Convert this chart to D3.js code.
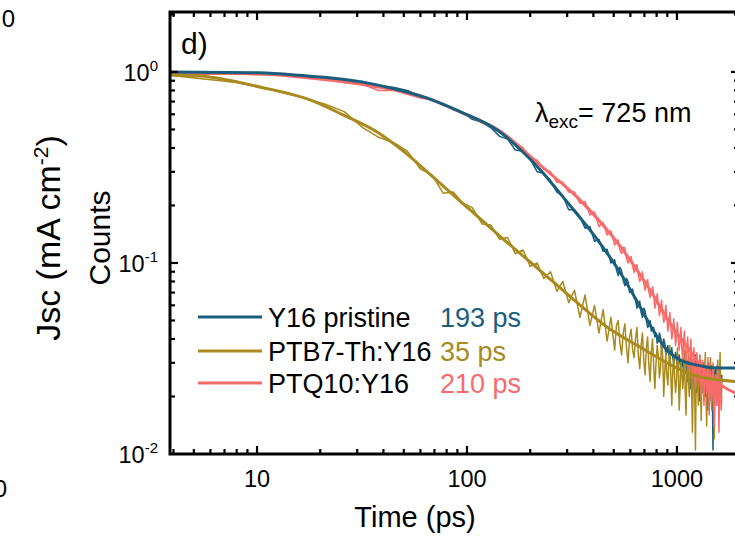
<!DOCTYPE html>
<html><head><meta charset="utf-8">
<script src="https://cdn.jsdelivr.net/npm/d3@7"></script>
<style>body{margin:0;background:#fff;} svg{display:block;font-family:"Liberation Sans",Arial,sans-serif;}</style>
</head><body><svg id="c" width="735" height="537"></svg>
<script>
// ---- data (time in ps, normalized counts) ----
const time = [4,8,12,16,21,26,32,38,45,52,60,68,77,86,96,106,118,130,143,156,170,185,200,216,232,250,268,286,305,325,345,365,385,405,425,445,465,485,
 505,515,525,535,545,555,565,575,585,595,
 605,615,625,635,645,655,665,675,685,695,
 705,715,725,735,745,755,765,775,785,795,
 805,815,825,835,845,855,865,875,885,895,
 905,915,925,935,945,955,965,975,985,995,
 1005,1015,1025,1035,1045,1055,1065,1075,1085,1095,
 1105,1115,1125,1135,1145,1155,1165,1175,1185,1195,
 1205,1215,1225,1235,1245,1255,1265,1275,1285,1295,
 1305,1315,1325,1335,1345,1355,1365,1375,1385,1395,
 1405,1415,1425,1435,1445,1455,1465,1475,1485,1495,
 1505,1515,1525,1535,1545,1555,1565,1575,1585,1595,
 1605,1615,1625,1635];
const y16Data = [1.0,0.99,0.985,0.96,0.935,0.90,0.89,0.85,0.83,0.80,0.745,0.72,0.67,0.645,0.61,0.565,0.545,0.51,0.46,0.445,0.39,0.385,0.35,0.30,0.295,0.27,0.235,0.225,0.19,0.19,0.175,0.152,0.155,0.13,0.133,0.115,0.118,0.10,
 0.104,0.092,0.086,0.095,0.091,0.081,0.076,0.083,0.080,0.070,
 0.072,0.073,0.066,0.064,0.058,0.060,0.063,0.055,0.052,0.058,
 0.056,0.050,0.046,0.047,0.050,0.044,0.046,0.046,0.041,0.043,
 0.038,0.039,0.043,0.041,0.035,0.036,0.040,0.038,0.033,0.034,
 0.037,0.033,0.031,0.035,0.036,0.032,0.030,0.031,0.034,0.033,
 0.028,0.030,0.033,0.030,0.027,0.029,0.032,0.028,0.026,0.033,
 0.031,0.027,0.024,0.032,0.029,0.026,0.022,0.027,0.030,0.023,
 0.025,0.029,0.033,0.026,0.021,0.030,0.028,0.024,0.019,0.031,
 0.027,0.021,0.023,0.026,0.030,0.024,0.020,0.029,0.026,0.022,
 0.017,0.030,0.027,0.019,0.022,0.025,0.029,0.020,0.0105,0.016,
 0.024,0.027,0.028,0.022,0.018,0.029,0.026,0.020,0.021,0.025,
 0.027,0.023,0.019,0.026];
const ptb7Data = [0.955,0.88,0.80,0.74,0.68,0.62,0.51,0.455,0.425,0.385,0.31,0.29,0.232,0.235,0.205,0.195,0.16,0.158,0.133,0.136,0.112,0.117,0.096,0.10,0.083,0.090,0.071,0.080,0.062,0.072,0.052,0.068,0.047,0.060,0.043,0.057,0.039,0.052,
 0.035,0.047,0.050,0.038,0.033,0.043,0.048,0.036,0.030,0.041,
 0.045,0.035,0.032,0.040,0.046,0.033,0.028,0.037,0.043,0.031,
 0.026,0.036,0.041,0.029,0.024,0.034,0.040,0.029,0.022,0.030,
 0.037,0.033,0.025,0.028,0.040,0.033,0.020,0.027,0.034,0.026,
 0.023,0.030,0.037,0.026,0.018,0.027,0.033,0.025,0.021,0.024,
 0.036,0.029,0.017,0.022,0.030,0.027,0.022,0.025,0.035,0.021,
 0.016,0.026,0.031,0.024,0.020,0.028,0.034,0.021,0.013,0.024,
 0.029,0.022,0.0105,0.025,0.031,0.023,0.018,0.026,0.033,0.022,
 0.015,0.025,0.028,0.023,0.019,0.026,0.034,0.021,0.014,0.024,
 0.027,0.022,0.020,0.027,0.032,0.020,0.017,0.024,0.029,0.026,
 0.012,0.020,0.026,0.024,0.021,0.027,0.031,0.022,0.016,0.025,
 0.034,0.023,0.019,0.025];
const ptq10Data = [0.97,0.975,0.965,0.945,0.915,0.88,0.86,0.80,0.80,0.765,0.73,0.715,0.68,0.635,0.61,0.58,0.54,0.525,0.49,0.46,0.425,0.40,0.355,0.345,0.31,0.30,0.265,0.265,0.235,0.235,0.205,0.21,0.178,0.185,0.155,0.163,0.14,0.147,
 0.124,0.130,0.132,0.117,0.112,0.121,0.120,0.106,0.100,0.105,
 0.108,0.097,0.089,0.095,0.098,0.087,0.080,0.083,0.090,0.078,
 0.072,0.079,0.082,0.071,0.066,0.070,0.075,0.068,0.058,0.062,
 0.069,0.061,0.053,0.057,0.064,0.055,0.049,0.051,0.060,0.052,
 0.044,0.048,0.055,0.047,0.040,0.043,0.051,0.044,0.037,0.042,
 0.049,0.040,0.035,0.039,0.046,0.036,0.031,0.038,0.044,0.034,
 0.029,0.035,0.041,0.033,0.027,0.031,0.040,0.032,0.025,0.030,
 0.036,0.029,0.022,0.028,0.034,0.029,0.024,0.027,0.033,0.026,
 0.020,0.025,0.031,0.027,0.018,0.023,0.030,0.026,0.021,0.024,
 0.032,0.022,0.016,0.025,0.027,0.021,0.019,0.024,0.030,0.020,
 0.014,0.023,0.026,0.022,0.018,0.020,0.028,0.024,0.013,0.019,
 0.025,0.022,0.017,0.020];

// fitted curves
const y16FitT  = [3.85,10.3,16,30.9,44.4,64.5,92.7,143.6,178.8,222.6,277,345,385,464,553,667,769,896,1033,1245,1483,1975];
const y16FitV  = [1.0,0.99,0.96,0.89,0.82,0.73,0.62,0.485,0.394,0.309,0.232,0.173,0.149,0.113,0.0845,0.059,0.0446,0.0351,0.0311,0.0292,0.0283,0.0282];
const ptb7FitT = [3.85,5.35,10.3,17.9,25.7,37.3,49.6,68.9,92.7,143.6,222.6,319,464,667,957,1245,1975];
const ptb7FitV = [0.964,0.953,0.835,0.714,0.596,0.485,0.386,0.282,0.211,0.138,0.0915,0.0649,0.0462,0.0363,0.0289,0.0256,0.0239];
const ptq10FitT = [3.85,10.3,16,30.9,64.5,92.7,143.6,222.6,345,553,743,957,1153,1360,1637,1975];
const ptq10FitV = [0.99,0.975,0.942,0.865,0.731,0.618,0.491,0.326,0.214,0.117,0.0724,0.0459,0.0349,0.027,0.0228,0.0204];

const seriesNames = ["Y16 pristine","PTB7-Th:Y16","PTQ10:Y16"];
const lifetimes = ["193 ps","35 ps","210 ps"];
const colors = ["#1a5e7e","#a98a1e","#f96b6b"];
const xMajor = [10,100,1000];
const xMajorLabels = ["10","100","1000"];
const yMajor = [1,0.1,0.01];
const yMajorExp = ["0","-1","-2"];

// ---- drawing ----
const svg = d3.select("#c");
const L=170, R=739, T=12, B=454;
const x = d3.scaleLog().domain([3.85,1975]).range([L,R]);
const y = d3.scaleLog().domain([0.01,2.06]).range([B,T]);

svg.append("defs").append("clipPath").attr("id","clip")
  .append("rect").attr("x",L).attr("y",T).attr("width",R-L).attr("height",B-T);

const g = svg.append("g").attr("clip-path","url(#clip)");
const line = d3.line().x(d=>x(d[0])).y(d=>y(d[1]));
const fitLine = d3.line().x(d=>x(d[0])).y(d=>y(d[1])).curve(d3.curveMonotoneX);

const dataSets = [y16Data, ptb7Data, ptq10Data];
[0,1,2].forEach(i=>{
  g.append("path").datum(time.map((t,k)=>[t,dataSets[i][k]]))
   .attr("d",line).attr("fill","none").attr("stroke",colors[i])
   .attr("stroke-width",1.5).attr("stroke-linejoin","round");
});
const fits = [[y16FitT,y16FitV],[ptb7FitT,ptb7FitV],[ptq10FitT,ptq10FitV]];
[2,1,0].forEach(i=>{
  g.append("path").datum(fits[i][0].map((t,k)=>[t,fits[i][1][k]]))
   .attr("d",fitLine).attr("fill","none").attr("stroke",colors[i])
   .attr("stroke-width",3);
});

// ticks
const ax = svg.append("g").attr("stroke","#000");
const isMajor = v => Math.abs(Math.log10(v)-Math.round(Math.log10(v)))<1e-6;
x.ticks().forEach(v=>{
  const len = isMajor(v)?8:5, px=x(v);
  if(px<=L||px>=R) return;
  ax.append("line").attr("x1",px).attr("x2",px).attr("y1",B).attr("y2",B-len).attr("stroke-width",2.2);
  ax.append("line").attr("x1",px).attr("x2",px).attr("y1",T).attr("y2",T+len).attr("stroke-width",2.2);
});
y.ticks().forEach(v=>{
  const len = isMajor(v)?8:5, py=y(v);
  if(py>=B||py<=T) return;
  ax.append("line").attr("y1",py).attr("y2",py).attr("x1",L).attr("x2",L+len).attr("stroke-width",2.2);
  ax.append("line").attr("y1",py).attr("y2",py).attr("x1",R).attr("x2",R-len).attr("stroke-width",2.2);
});
svg.append("rect").attr("x",L).attr("y",T).attr("width",R-L).attr("height",B-T)
  .attr("fill","none").attr("stroke","#000").attr("stroke-width",3);

// tick labels
xMajor.forEach((v,i)=>{
  svg.append("text").attr("x",x(v)).attr("y",487).attr("text-anchor","middle")
    .attr("font-size",23.5).text(xMajorLabels[i]);
});
yMajor.forEach((v,i)=>{
  const t = svg.append("text").attr("x",158).attr("y",y(v)+9).attr("text-anchor","end").attr("font-size",23.5);
  t.append("tspan").text("10");
  t.append("tspan").attr("font-size",15).attr("dy",-10).text(yMajorExp[i]);
});

// axis titles
svg.append("text").attr("x",415).attr("y",527).attr("text-anchor","middle").attr("font-size",29).text("Time (ps)");
svg.append("text").attr("transform","translate(110,238) rotate(-90)").attr("text-anchor","middle").attr("font-size",30).text("Counts");
const js = svg.append("text").attr("transform","translate(60,238) rotate(-90)").attr("text-anchor","middle").attr("font-size",34);
js.append("tspan").text("Jsc (mA cm");
js.append("tspan").attr("font-size",21).attr("dy",-12).text("-2");
js.append("tspan").attr("dy",12).text(")");

// cut-off labels of neighbouring panel
svg.append("text").attr("x",15).attr("y",27).attr("text-anchor","end").attr("font-size",24).text("0");
svg.append("text").attr("x",7).attr("y",497).attr("text-anchor","end").attr("font-size",24).text("0");

// panel label and annotation
svg.append("text").attr("x",181).attr("y",54).attr("font-size",30).text("d)");
const lam = svg.append("text").attr("x",535).attr("y",122).attr("font-size",27);
lam.append("tspan").text("λ");
lam.append("tspan").attr("font-size",19).attr("dy",6).text("exc");
lam.append("tspan").attr("dy",-6).text("= 725 nm");

// legend
const legY = [317,351,383];
seriesNames.forEach((n,i)=>{
  svg.append("line").attr("x1",198).attr("x2",262).attr("y1",legY[i]).attr("y2",legY[i])
    .attr("stroke",colors[i]).attr("stroke-width",3);
  svg.append("text").attr("x",268).attr("y",legY[i]+9.5).attr("font-size",27).text(n);
  svg.append("text").attr("x",440).attr("y",legY[i]+9.5).attr("font-size",27).attr("fill",colors[i]).text(lifetimes[i]);
});
</script></body></html>
